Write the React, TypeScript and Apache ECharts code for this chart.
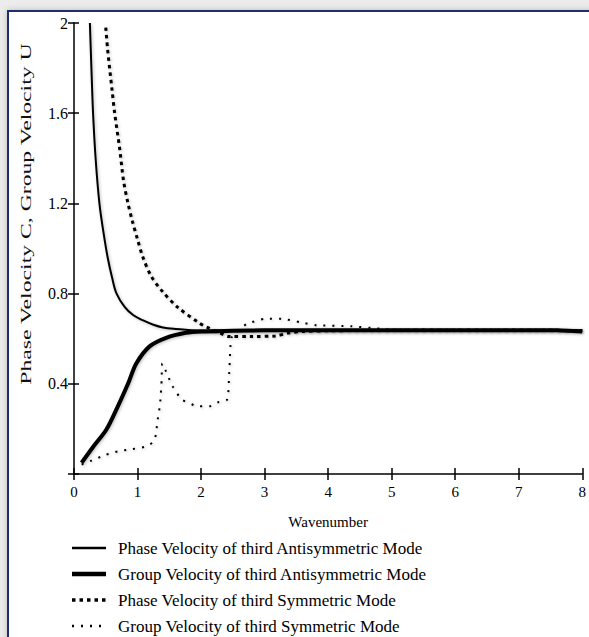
import React, { useEffect, useRef } from "react";
import * as echarts from "echarts";

const xTicks = [0, 1, 2, 3, 4, 5, 6, 7, 8];
const yTicks = [0.4, 0.8, 1.2, 1.6, 2];

const seriesNames = [
  "Phase Velocity of third Antisymmetric Mode",
  "Group Velocity of third Antisymmetric Mode",
  "Phase Velocity of third Symmetric Mode",
  "Group Velocity of third Symmetric Mode",
];

const phaseAnti: number[][] = [
  [0.25, 2.0], [0.28, 1.75], [0.3, 1.6], [0.34, 1.4], [0.4, 1.2], [0.47, 1.06],
  [0.53, 0.96], [0.6, 0.87], [0.67, 0.8], [0.8, 0.74], [0.93, 0.705], [1.08, 0.682],
  [1.25, 0.662], [1.4, 0.65], [1.6, 0.643], [1.8, 0.639], [2, 0.636], [3, 0.636],
  [4, 0.637], [5, 0.638], [6, 0.638], [7, 0.638], [8, 0.636],
];

const groupAnti: number[][] = [
  [0.12, 0.05], [0.3, 0.12], [0.51, 0.197], [0.69, 0.3], [0.85, 0.4], [0.98, 0.49],
  [1.19, 0.566], [1.45, 0.604], [1.76, 0.626], [2.0, 0.632], [2.5, 0.635], [3, 0.637],
  [4, 0.638], [5, 0.638], [6, 0.638], [7, 0.638], [7.6, 0.637], [8, 0.632],
];

const phaseSym: number[][] = [
  [0.5, 1.98], [0.53, 1.88], [0.6, 1.7], [0.64, 1.6], [0.72, 1.44], [0.78, 1.3],
  [0.85, 1.2], [0.92, 1.12], [1.0, 1.04], [1.08, 0.965], [1.21, 0.88], [1.39, 0.81],
  [1.63, 0.74], [1.97, 0.67], [2.1, 0.65], [2.3, 0.625], [2.44, 0.61], [2.8, 0.61],
  [3.17, 0.612], [3.37, 0.625], [3.6, 0.632], [4, 0.635], [5, 0.637], [6, 0.638],
  [7, 0.638], [8, 0.636],
];

const groupSym: number[][] = [
  [0.12, 0.042], [0.28, 0.06], [0.5, 0.085], [0.69, 0.1], [0.9, 0.11], [1.11, 0.12],
  [1.24, 0.14], [1.29, 0.175], [1.31, 0.23], [1.34, 0.28], [1.36, 0.33], [1.38, 0.42],
  [1.39, 0.49], [1.47, 0.44], [1.55, 0.39], [1.7, 0.33], [1.97, 0.3], [2.13, 0.3],
  [2.26, 0.317], [2.41, 0.33], [2.44, 0.43], [2.46, 0.55], [2.48, 0.605], [2.6, 0.64],
  [2.72, 0.665], [3.01, 0.688], [3.27, 0.688], [3.56, 0.673], [3.82, 0.66], [4.36, 0.655],
  [4.8, 0.645], [5, 0.64], [6, 0.64], [7, 0.64], [8, 0.638],
];

const FONT = "'Liberation Serif', 'Times New Roman', serif";

export default function App() {
  const ref = useRef<HTMLDivElement>(null);
  useEffect(() => {
    if (!ref.current) return;
    const chart = echarts.init(ref.current, null, { renderer: "svg" });
    const shadow = { shadowColor: "rgba(0,0,0,0.25)", shadowBlur: 3, shadowOffsetX: 1, shadowOffsetY: 1 };
    const axisCommon = {
      type: "value" as const,
      splitLine: { show: false },
      axisLine: { show: true, lineStyle: { color: "#000", width: 1.5 } },
      axisTick: { show: true, length: 6, lineStyle: { color: "#000", width: 1.5 } },
    };
    const styles = [
      { width: 2, dash: [] as number[] },
      { width: 4, dash: [] as number[] },
      { width: 3, dash: [3.5, 4] },
      { width: 2, dash: [2, 7] },
    ];
    const legendRowsY = [548, 574, 600, 626];
    const legendGraphics: any[] = [];
    seriesNames.forEach((name, i) => {
      legendGraphics.push({
        type: "line",
        silent: true,
        shape: { x1: 72, y1: legendRowsY[i], x2: 106, y2: legendRowsY[i] },
        style: { stroke: "#000", lineWidth: styles[i].width + 0.5, lineDash: styles[i].dash.length ? styles[i].dash : null },
      });
      legendGraphics.push({
        type: "text",
        silent: true,
        x: 118,
        y: legendRowsY[i],
        style: {
          text: name,
          fill: "#000",
          font: `17px ${FONT}`,
          verticalAlign: "middle",
          align: "left",
        },
      });
    });
    chart.setOption({
      animation: false,
      backgroundColor: "#ececec",
      grid: { left: 74, right: 3, top: 23, bottom: 163, containLabel: false },
      xAxis: [
        {
          ...axisCommon,
          min: 0,
          max: 8,
          interval: 1,
          axisLabel: {
            color: "#000",
            fontFamily: FONT,
            fontSize: 15,
            margin: 10,
            formatter: (v: number) => (xTicks.includes(v) ? String(v) : ""),
          },
          name: "Wavenumber",
          nameLocation: "middle",
          nameGap: 40,
          nameTextStyle: { color: "#000", fontFamily: FONT, fontSize: 15 },
        },
        {
          ...axisCommon,
          min: 0,
          max: 8,
          interval: 1,
          position: "bottom",
          axisLine: { show: false },
          axisTick: { show: true, inside: true, length: 6, lineStyle: { color: "#000", width: 1.5 } },
          axisLabel: { show: false },
        },
      ],
      yAxis: [
        {
          ...axisCommon,
          min: 0,
          max: 2,
          interval: 0.4,
          axisLabel: {
            color: "#000",
            fontFamily: FONT,
            fontSize: 16,
            margin: 6,
            formatter: (v: number) => {
              const r = Math.round(v * 10) / 10;
              return yTicks.includes(r) ? String(r) : "";
            },
          },
        },
        {
          ...axisCommon,
          min: 0,
          max: 2,
          interval: 0.4,
          position: "left",
          axisLine: { show: false },
          axisTick: { show: true, inside: true, length: 5, lineStyle: { color: "#000", width: 1.5 } },
          axisLabel: { show: false },
        },
      ],
      graphic: [
        {
          type: "rect",
          z: -10,
          silent: true,
          shape: { x: 8, y: 11, width: 600, height: 640 },
          style: { fill: "#fff", stroke: "#1c2f6e", lineWidth: 2, shadowColor: "rgba(0,0,0,0.2)", shadowBlur: 6 },
        },
        {
          type: "text",
          x: 26,
          y: 214,
          rotation: Math.PI / 2,
          scaleX: 1.58,
          style: {
            text: "Phase Velocity C, Group Velocity U",
            fill: "#111",
            font: `15px ${FONT}`,
            align: "center",
            verticalAlign: "middle",
          },
        },
        ...legendGraphics,
      ],
      series: [
        {
          name: seriesNames[0],
          type: "line",
          data: phaseAnti,
          symbol: "none",
          smooth: 0.35,
          lineStyle: { color: "#000", width: styles[0].width, ...shadow },
        },
        {
          name: seriesNames[1],
          type: "line",
          data: groupAnti,
          symbol: "none",
          smooth: 0.3,
          lineStyle: { color: "#000", width: styles[1].width, ...shadow },
        },
        {
          name: seriesNames[2],
          type: "line",
          data: phaseSym,
          symbol: "none",
          smooth: 0.3,
          lineStyle: { color: "#000", width: styles[2].width, type: styles[2].dash, ...shadow },
        },
        {
          name: seriesNames[3],
          type: "line",
          data: groupSym,
          symbol: "none",
          smooth: 0.2,
          lineStyle: { color: "#000", width: styles[3].width, type: styles[3].dash, ...shadow },
        },
      ],
    });
    return () => chart.dispose();
  }, []);
  return (
    <div
      ref={ref}
      style={{ position: "fixed", left: 0, top: 0, width: 589, height: 637 }}
    />
  );
}
